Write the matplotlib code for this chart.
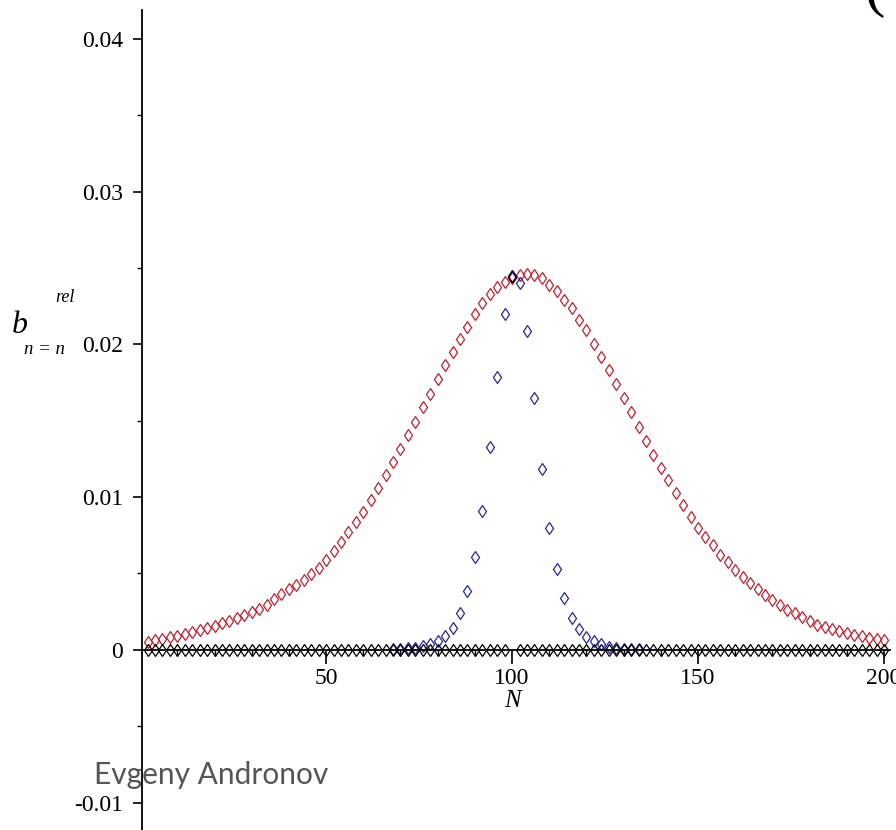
import matplotlib
matplotlib.use("Agg")
import matplotlib.pyplot as plt
from matplotlib.ticker import MultipleLocator, FixedLocator
import numpy as np

# ---------------- data ----------------
N_red = list(range(2, 201, 2))
b_red = [0.00052, 0.00062, 0.00072, 0.00082, 0.00093, 0.00105, 0.00117, 0.00130, 0.00144, 0.00158,
         0.00174, 0.00190, 0.00208, 0.00227, 0.00247, 0.00268, 0.00291, 0.00330, 0.00365, 0.00395,
         0.00426, 0.00458, 0.00494, 0.00538, 0.00590, 0.00648, 0.00706, 0.00770, 0.00838, 0.00905,
         0.00980, 0.01062, 0.01143, 0.01230, 0.01318, 0.01405, 0.01492, 0.01590, 0.01678, 0.01775,
         0.01862, 0.01950, 0.02038, 0.02115, 0.02200, 0.02268, 0.02333, 0.02378, 0.02412, 0.02436,
         0.02455, 0.02462, 0.02456, 0.02434, 0.02392, 0.02347, 0.02292, 0.02238, 0.02161, 0.02096,
         0.02000, 0.01920, 0.01834, 0.01738, 0.01650, 0.01556, 0.01460, 0.01365, 0.01278, 0.01190,
         0.01112, 0.01028, 0.00950, 0.00873, 0.00800, 0.00742, 0.00688, 0.00622, 0.00572, 0.00524,
         0.00480, 0.00437, 0.00395, 0.00360, 0.00327, 0.00295, 0.00264, 0.00240, 0.00214, 0.00187,
         0.00165, 0.00149, 0.00135, 0.00121, 0.00109, 0.00098, 0.00088, 0.00080, 0.00072, 0.00065]

N_blue = list(range(68, 135, 2))
b_blue = [0.00005, 0.00007, 0.00010, 0.00015, 0.00022, 0.00035, 0.00060, 0.00090, 0.00146, 0.00244,
          0.00386, 0.00611, 0.00912, 0.01327, 0.01786, 0.02198, 0.02440, 0.02401, 0.02091, 0.01652,
          0.01183, 0.00801, 0.00528, 0.00339, 0.00208, 0.00136, 0.00087, 0.00059, 0.00035, 0.00020,
          0.00012, 0.00008, 0.00005, 0.00003]

N_black = list(range(2, 201, 2))
b_black = [0.0 if n != 100 else 0.02450 for n in N_black]

x_ticks = [50, 100, 150, 200]
y_ticks = [-0.01, 0, 0.01, 0.02, 0.03, 0.04]
y_tick_labels = ["-0.01", "0", "0.01", "0.02", "0.03", "0.04"]

# ---------------- figure ----------------
W, H = 896, 830
fig = plt.figure(figsize=(W / 100, H / 100), dpi=100)
ax = fig.add_axes([142 / W, 0.0, (889.6 - 142) / W, 820 / H])
ax.set_xlim(0.5, 201.5)
ax.set_ylim(-0.0118, 0.0419)

mk = dict(linestyle="none", marker="d", markersize=6.1, markerfacecolor="none", markeredgewidth=0.9)
ax.plot(N_red, b_red, markeredgecolor="#c41e2e", **mk, zorder=3)
ax.plot(N_blue, b_blue, markeredgecolor="#26269a", **mk, zorder=4)
ax.plot(N_black, b_black, markeredgecolor="black", **mk, zorder=5)

for s in ["top", "right"]:
    ax.spines[s].set_visible(False)
ax.spines["bottom"].set_position(("data", 0))
ax.spines["bottom"].set_linewidth(1.3)
ax.spines["left"].set_linewidth(1.3)
ax.spines["bottom"].set_zorder(6)

serif = "Liberation Serif"
ax.xaxis.set_major_locator(FixedLocator(x_ticks))
ax.xaxis.set_minor_locator(MultipleLocator(10))
ax.set_xticklabels([str(t) for t in x_ticks], fontfamily=serif, fontsize=17)
ax.yaxis.set_major_locator(FixedLocator(y_ticks))
ax.yaxis.set_minor_locator(MultipleLocator(0.005))
ax.set_yticklabels(y_tick_labels, fontfamily=serif, fontsize=17)

ax.tick_params(axis="x", which="major", direction="out", length=10, width=1.2, pad=3, colors="black")
ax.tick_params(axis="x", which="minor", direction="out", length=4, width=1.0)
ax.tick_params(axis="y", which="major", direction="out", length=6.5, width=1.2, pad=7)
ax.tick_params(axis="y", which="minor", direction="out", length=3.5, width=1.0)
ax.patch.set_visible(False)

# axis labels
fig.text(512 / W, 1 - 701 / H, "N", fontsize=18, ha="center", va="center",
         fontfamily=serif, fontstyle="italic")
fig.text(12 / W, 1 - 325 / H, "b", fontsize=23, ha="left", va="center",
         fontfamily=serif, fontstyle="italic")
fig.text(24 / W, 1 - 349 / H, "n = n", fontsize=13.5, ha="left", va="center",
         fontfamily=serif, fontstyle="italic")
fig.text(55 / W, 1 - 298 / H, "rel", fontsize=13, ha="left", va="center",
         fontfamily=serif, fontstyle="italic")

# watermark text
fig.text(94 / W, 1 - 775 / H, "Evgeny Andronov", fontsize=21.5, color="#555555",
         fontfamily="Lato", ha="left", va="center")

# clipped bracket at top right
fig.text(864 / W, 1 + 10 / H, "(", fontsize=44, color="black", fontfamily=serif,
         ha="left", va="center")

fig.savefig("out.png", dpi=100)
